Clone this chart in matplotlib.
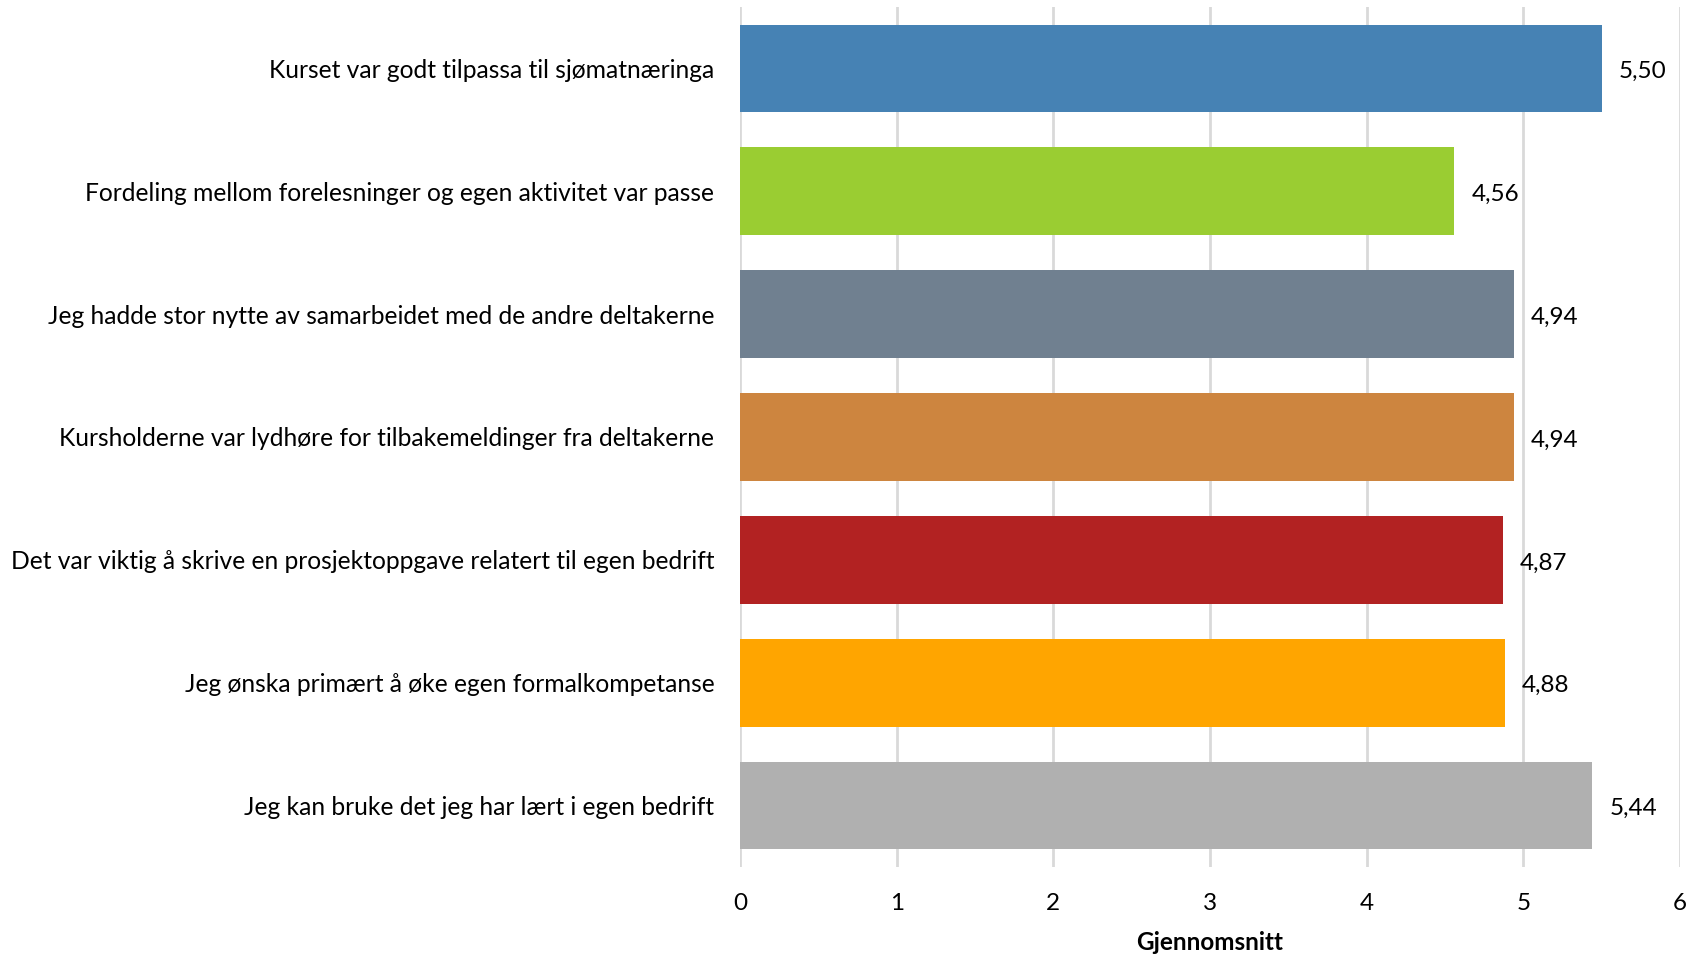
import matplotlib
matplotlib.use("Agg")
import matplotlib.pyplot as plt

categories = [
    "Kurset var godt tilpassa til sjømatnæringa",
    "Fordeling mellom forelesninger og egen aktivitet var passe",
    "Jeg hadde stor nytte av samarbeidet med de andre deltakerne",
    "Kursholderne var lydhøre for tilbakemeldinger fra deltakerne",
    "Det var viktig å skrive en prosjektoppgave relatert til egen bedrift",
    "Jeg ønska primært å øke egen formalkompetanse",
    "Jeg kan bruke det jeg har lært i egen bedrift",
]
values = [5.50, 4.56, 4.94, 4.94, 4.87, 4.88, 5.44]
colors = ["#4682B4", "#9ACD32", "#708090", "#CD853F", "#B22222", "#FFA500", "#B0B0B0"]
xticks = [0, 1, 2, 3, 4, 5, 6]
xlabel = "Gjennomsnitt"

plt.rcParams['font.family'] = ['Lato', 'DejaVu Sans']

fig = plt.figure(figsize=(17, 9.55), dpi=100)
ax = fig.add_axes([740/1700, 1-867/955, 940/1700, 860/955])

ypos = list(range(len(categories)))
ax.barh(ypos, values, height=0.714, color=colors, zorder=3)
ax.set_ylim(len(categories)-0.5, -0.5)
ax.set_xlim(0, 6)
ax.set_xticks(xticks)
ax.set_xticklabels([str(t) for t in xticks], fontsize=17.5)
ax.set_yticks(ypos)
ax.set_yticklabels(categories, fontsize=17.7)
ax.tick_params(axis='both', length=0, colors='black')
ax.tick_params(axis='y', pad=18.5)
ax.tick_params(axis='x', pad=19)
ax.grid(axis='x', color='#D9D9D9', linewidth=2, zorder=0)
for s in ax.spines.values():
    s.set_visible(False)

for y, v in zip(ypos, values):
    ax.annotate(f"{v:.2f}".replace('.', ','), (v, y), xytext=(17, -3), textcoords='offset pixels',
                va='center', ha='left', fontsize=17.5)

ax.set_xlabel(xlabel, fontsize=17.5, fontweight='bold', labelpad=12)

fig.savefig("out.png", dpi=100, facecolor='white')
